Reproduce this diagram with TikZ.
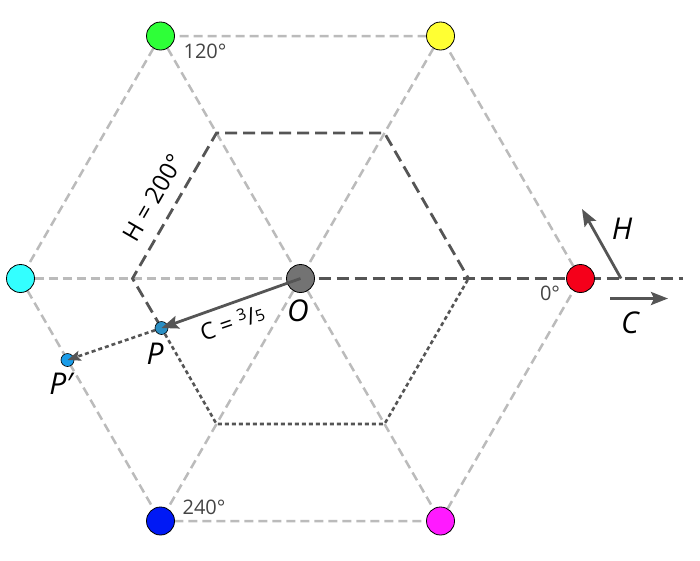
\documentclass[tikz,border=0pt]{standalone}
\usepackage{fontspec}
\setmainfont{Open Sans}
\usepackage{tikz}
\usetikzlibrary{arrows.meta,backgrounds,calc}

\definecolor{guidegray}{HTML}{BBBBBB}
\definecolor{linegray}{HTML}{555555}
\definecolor{textgray}{HTML}{444444}
\definecolor{origingray}{HTML}{737373}
\definecolor{hred}{HTML}{F5001A}
\definecolor{hyellow}{HTML}{FFFF33}
\definecolor{hgreen}{HTML}{2EFF38}
\definecolor{hcyan}{HTML}{33FFFF}
\definecolor{hblue}{HTML}{0019F5}
\definecolor{hmagenta}{HTML}{FF1AFF}
\definecolor{pblue}{HTML}{2A8FC4}
\definecolor{ppblue}{HTML}{1A9CE8}

\begin{document}
\begin{tikzpicture}[x=1pt,y=-1pt,
    guide/.style={draw=guidegray, line width=2.5pt, dash pattern=on 9pt off 5pt},
    huepath/.style={draw=linegray, line width=2.8pt, dash pattern=on 12pt off 6pt},
    restpath/.style={draw=linegray, line width=2.6pt, dash pattern=on 4pt off 3pt},
    vertex/.style={circle, draw=black, line width=0.8pt, minimum size=28pt, inner sep=0pt},
    smalldot/.style={circle, draw=black, line width=0.6pt, minimum size=13pt, inner sep=0pt},
    deg/.style={text=textgray, font=\fontsize{20}{24}\selectfont},
    var/.style={font=\fontsize{30}{34}\selectfont\itshape},
    eqn/.style={font=\fontsize{24}{28}\selectfont},
    vec/.style={draw=linegray, line width=2.8pt, -{Stealth[length=17pt,width=13pt,inset=3pt]}}
  ]
    \useasboundingbox (0,0) rectangle (700,560);
    % hue circle
    \node[vertex, fill=origingray] (O) at (300.5, 278.5) {};
    \node[vertex, fill=hred] (red) at (580.5, 278.5) {};
    \node[vertex, fill=hyellow] (yellow) at (440.5, 36) {};
    \node[vertex, fill=hgreen] (green) at (160.5, 36) {};
    \node[vertex, fill=hcyan] (cyan) at (20.5, 278.5) {};
    \node[vertex, fill=hblue] (blue) at (160.5, 521) {};
    \node[vertex, fill=hmagenta] (magenta) at (440.5, 521) {};
    \node[smalldot, fill=pblue] (P) at (161.5, 328) {};
    \node[smalldot, fill=ppblue] (Pp) at (67.5, 360) {};
    % chroma 3/5
    \coordinate (i0) at ($(O.center)!0.6!(red.center)$);
    \coordinate (i1) at ($(O.center)!0.6!(yellow.center)$);
    \coordinate (i2) at ($(O.center)!0.6!(green.center)$);
    \coordinate (i3) at ($(O.center)!0.6!(cyan.center)$);
    \coordinate (i4) at ($(O.center)!0.6!(blue.center)$);
    \coordinate (i5) at ($(O.center)!0.6!(magenta.center)$);
    \coordinate (axisend) at (683, 278.5);
    \begin{scope}[on background layer]
      \draw[guide] (red.center) -- (yellow.center) -- (green.center) -- (cyan.center)
        -- (blue.center) -- (magenta.center) -- cycle;
      \draw[guide] (green.center) -- (magenta.center);
      \draw[guide] (yellow.center) -- (blue.center);
      \draw[guide] (cyan.center) -- (O.center);
      \draw[huepath] (O.center) -- (axisend);
      \draw[huepath] (P.center) -- (i3) -- (i2) -- (i1) -- (i0);
      \draw[restpath] (P.center) -- (i4) -- (i5) -- (i0);
    \end{scope}
    \draw[vec] (O.center) -- (P.center);
    \draw[restpath, -{Stealth[length=13pt,width=10pt,inset=2.5pt]}] (P) -- (Pp.center);
    % legend
    \coordinate (hbase) at (621, 278.5);
    \coordinate (htip) at (582, 209);
    \coordinate (cbase) at (610, 298.5);
    \coordinate (ctip) at (668, 298.5);
    \draw[vec] (hbase) -- (htip);
    \draw[vec] (cbase) -- (ctip);
    % labels
    \node[deg] (l120) at (205, 51) {120°};
    \node[deg] (l240) at (204, 507) {240°};
    \node[deg] (l0) at (550, 293) {0°};
    \node[var] (lO) at (298, 311) {O};
    \node[var] (lP) at (155, 354) {P};
    \node[var] (lPp) at (61, 384) {P′};
    \node[var] (lH) at (622, 229) {H};
    \node[var] (lC) at (630, 323) {C};
    \node[eqn, rotate=60] (lhue) at (153, 198) {H = 200°};
    \node[eqn, font=\fontsize{23}{26}\selectfont, rotate=19] (lchroma) at (232, 322)
      {C = \raisebox{7pt}{\fontsize{16}{16}\selectfont 3}/{\fontsize{16}{16}\selectfont 5}};
  \end{tikzpicture}
\end{document}
